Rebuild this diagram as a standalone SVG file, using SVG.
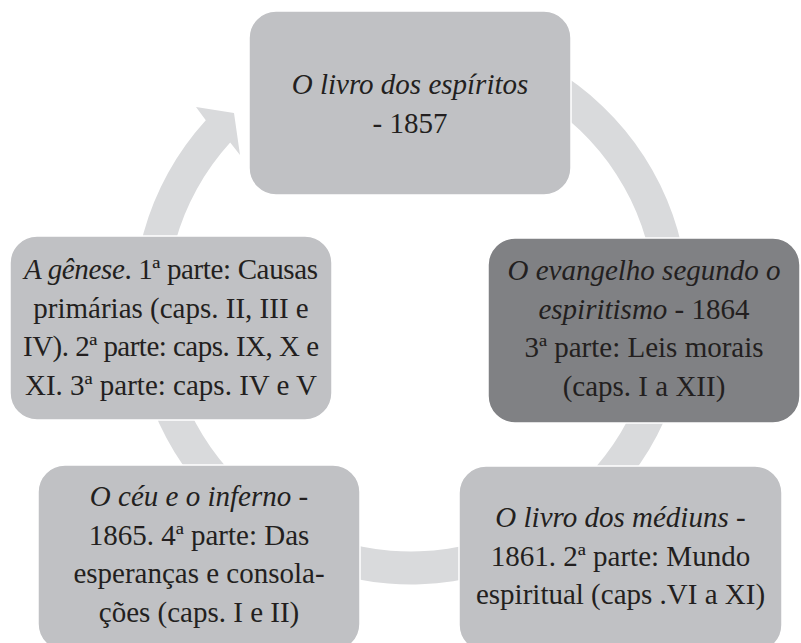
<svg xmlns="http://www.w3.org/2000/svg" width="801" height="643" viewBox="0 0 801 643">
<style>
.bg{fill:#ffffff}
.band{fill:#d9dadc}
.box{fill:#c0c1c4;stroke:#ffffff;stroke-width:1.5}
.dark{fill:#808184;stroke:#ffffff;stroke-width:1.5}
.t{font-family:"Liberation Serif","Times New Roman",serif;font-size:29px;fill:#231f20;text-anchor:middle}
.i{font-style:italic}
</style>
<rect class="bg" x="0" y="0" width="801" height="643"/>
<g id="connectors">
<path class="band" d="M 362.8 33.7 A 277.5 277.5 0 1 1 205.8 120.2 L 196 107 L 234 113 L 240 155 L 230.2 142.4 A 244.5 244.5 0 1 0 368.6 66.2 Z"/>
</g>
<g id="node-livro-espiritos">
<rect class="box" x="249" y="11" width="322" height="184" rx="27"/>
<text class="t" x="410" y="94"><tspan class="i">O livro dos espíritos</tspan></text>
<text class="t" x="410" y="133">- 1857</text>
</g>
<g id="node-evangelho">
<rect class="dark" x="488" y="238" width="312" height="185" rx="27"/>
<text class="t" x="644" y="280"><tspan class="i">O evangelho segundo o</tspan></text>
<text class="t" x="644" y="318.5"><tspan class="i">espiritismo</tspan> - 1864</text>
<text class="t" x="644" y="357">3ª parte: Leis morais</text>
<text class="t" x="644" y="395.5">(caps. I a XII)</text>
</g>
<g id="node-genese">
<rect class="box" x="10" y="236" width="322" height="184" rx="27"/>
<text class="t" x="171" y="279" textLength="294" lengthAdjust="spacing"><tspan class="i">A gênese</tspan>. 1ª parte: Causas</text>
<text class="t" x="171" y="317.5">primárias (caps. II, III e</text>
<text class="t" x="171" y="356" textLength="296" lengthAdjust="spacing">IV). 2ª parte: caps. IX, X e</text>
<text class="t" x="171" y="394.5">XI. 3ª parte: caps. IV e V</text>
</g>
<g id="node-ceu-inferno">
<rect class="box" x="38" y="465" width="322" height="186" rx="27"/>
<text class="t" x="199" y="506"><tspan class="i">O céu e o inferno</tspan> -</text>
<text class="t" x="199" y="544.5">1865. 4ª parte: Das</text>
<text class="t" x="199" y="583">esperanças e consola-</text>
<text class="t" x="199" y="621.5">ções (caps. I e II)</text>
</g>
<g id="node-mediuns">
<rect class="box" x="459" y="466" width="323" height="186" rx="27"/>
<text class="t" x="620.5" y="527"><tspan class="i">O livro dos médiuns</tspan> -</text>
<text class="t" x="620.5" y="565.5">1861. 2ª parte: Mundo</text>
<text class="t" x="620.5" y="604">espiritual (caps .VI a XI)</text>
</g>
</svg>
